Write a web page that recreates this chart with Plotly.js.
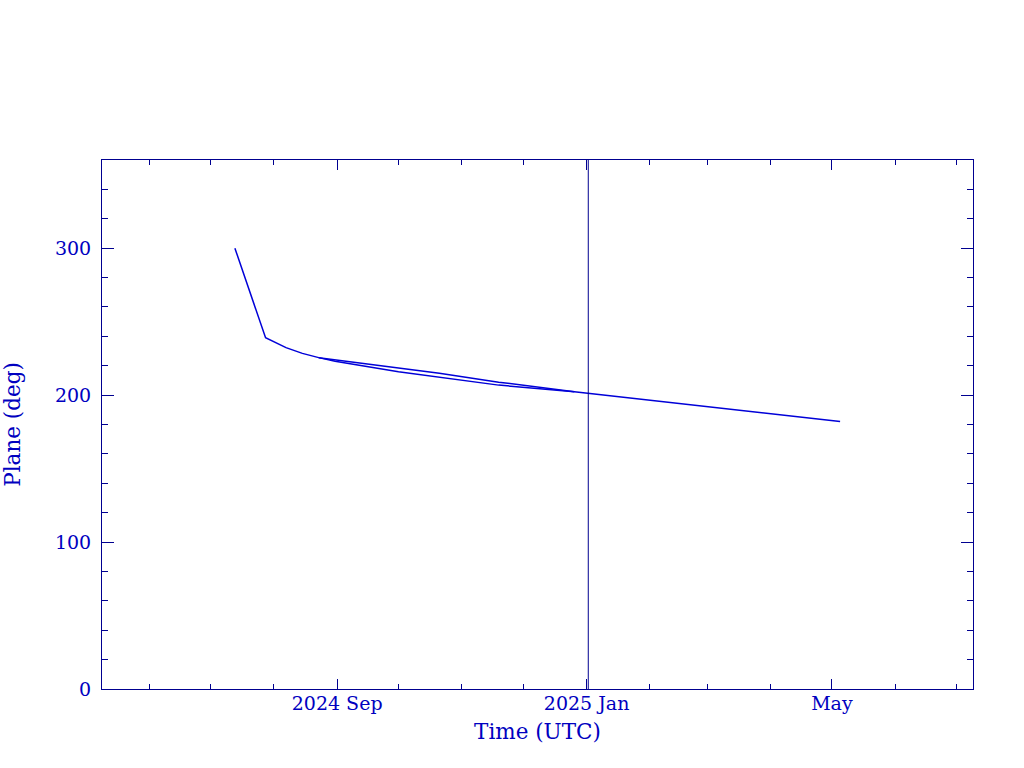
<!DOCTYPE html>
<html>
<head>
<meta charset="utf-8">
<script src="https://cdn.plot.ly/plotly-3.0.1.min.js"></script>
<style>html,body{margin:0;padding:0;background:#fff;}#chart{width:1024px;height:768px;}</style>
</head>
<body>
<div id="chart"></div>
<script>
// Main track
var mainDates = ["2024-07-13","2024-07-28","2024-08-07","2024-08-15","2024-08-23","2024-08-31","2024-10-01","2024-10-21","2024-11-19","2024-12-26","2025-02-01","2025-05-05"];
var mainPlane = [300, 239, 232.3, 228.4, 225.5, 223.0, 215.9, 212.3, 206.8, 202.3, 196.6, 182.0];
// Second (upper) track segment
var upperDates = ["2024-08-23","2024-10-01","2024-10-21","2024-11-19","2024-12-26"];
var upperPlane = [225.5, 218.2, 214.8, 208.8, 202.3];
// Vertical marker
var markerDate = ["2025-01-01T20:00"];
var markerRange = [0, 360];
// Axis ticks
var xTickVals = ["2024-09-01","2025-01-01","2025-05-01"];
var xTickText = ["2024 Sep","2025 Jan","May"];
var xRange = ["2024-05-09","2025-07-09"];
var yTickVals = [0, 100, 200, 300];

var axisColor = "#000090";
var textColor = "#0000c0";
var lineColor = "#0000d8";
var fontFam = "DejaVu Serif, serif";

var traces = [
  {x: mainDates, y: mainPlane, type: "scatter", mode: "lines", line: {color: lineColor, width: 1.5}, hoverinfo: "skip"},
  {x: upperDates, y: upperPlane, type: "scatter", mode: "lines", line: {color: lineColor, width: 1.5}, hoverinfo: "skip"},
  {x: [markerDate[0], markerDate[0]], y: markerRange, type: "scatter", mode: "lines", line: {color: axisColor, width: 1}, hoverinfo: "skip"}
];

var layout = {
  width: 1024, height: 768,
  margin: {l: 102, r: 51, t: 160, b: 79, pad: 0},
  paper_bgcolor: "#ffffff", plot_bgcolor: "#ffffff",
  showlegend: false,
  font: {family: fontFam, color: textColor, size: 19},
  xaxis: {
    type: "date", range: xRange, autorange: false,
    tickmode: "array", tickvals: xTickVals, ticktext: xTickText,
    ticks: "inside", ticklen: 10, tickwidth: 1, tickcolor: axisColor,
    showline: true, linecolor: axisColor, linewidth: 1, mirror: "allticks",
    showgrid: false, zeroline: false,
    ticklabelstandoff: -3,
    tickfont: {family: fontFam, size: 19, color: textColor},
    minor: {dtick: "M1", tick0: "2024-01-01", ticks: "inside", ticklen: 5, tickcolor: axisColor, tickwidth: 1, showgrid: false},
    title: {text: "Time (UTC)", font: {family: fontFam, size: 21.5, color: textColor}, standoff: 11}
  },
  yaxis: {
    range: [0, 360], autorange: false,
    tickmode: "array", tickvals: yTickVals,
    ticks: "inside", ticklen: 12, tickwidth: 1, tickcolor: axisColor,
    showline: true, linecolor: axisColor, linewidth: 1, mirror: "allticks",
    showgrid: false, zeroline: false,
    ticklabelstandoff: 6,
    tickfont: {family: fontFam, size: 19, color: textColor},
    minor: {dtick: 20, tick0: 0, ticks: "inside", ticklen: 6, tickcolor: axisColor, tickwidth: 1, showgrid: false},
    title: {text: "Plane (deg)", font: {family: fontFam, size: 21.5, color: textColor}, standoff: 30}
  }
};

Plotly.newPlot("chart", traces, layout, {staticPlot: true, displayModeBar: false});
</script>
</body>
</html>
